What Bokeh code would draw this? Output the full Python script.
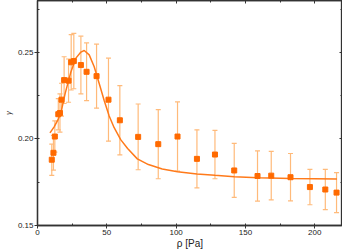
from bokeh.plotting import figure
from bokeh.models import (ColumnDataSource, Whisker, TeeHead, LinearAxis, Range1d,
                          SingleIntervalTicker, PrintfTickFormatter)
from bokeh.embed import file_html
from bokeh.resources import INLINE

# measured data (pressure in Pa, gamma)
p_pa = [10.3, 11.5, 12.5, 15.0, 16.2, 17.3, 19.2, 22.4, 24.3, 26.2, 31.3, 35.4,
        42.6, 51.2, 59.4, 72.6, 87.1, 101.0, 115.0, 128.0, 141.9, 158.7, 168.6,
        182.5, 196.5, 207.6, 215.7]
gamma = [0.188, 0.192, 0.2014, 0.2143, 0.2150, 0.2227, 0.2340, 0.2337, 0.2443,
         0.2450, 0.2427, 0.2388, 0.2363, 0.2227, 0.2108, 0.2012, 0.1970, 0.2014,
         0.1885, 0.1910, 0.1818, 0.1786, 0.1788, 0.1779, 0.1722, 0.1708, 0.1690]
gamma_err = [0.009, 0.010, 0.009, 0.009, 0.011, 0.0095, 0.0135, 0.0125, 0.016,
             0.016, 0.0167, 0.0167, 0.0185, 0.024, 0.020, 0.019, 0.020, 0.020,
             0.0168, 0.014, 0.0156, 0.0145, 0.014, 0.0137, 0.0102, 0.0116, 0.0116]

# fitted curve
fit_p = [9, 12, 15, 17, 20, 24, 27.7, 31.3, 33.7, 37.3, 40.9, 44.5, 48.1, 51.7,
         55.3, 60, 65, 72, 80, 90, 101, 115, 128, 142, 159, 183, 216]
fit_gamma = [0.2035, 0.207, 0.2115, 0.2155, 0.2265, 0.2385, 0.2467, 0.2502,
             0.2511, 0.2486, 0.2417, 0.2320, 0.2222, 0.2133, 0.2065, 0.1996,
             0.1945, 0.1885, 0.1852, 0.1826, 0.1810, 0.1798, 0.1790, 0.1782,
             0.1776, 0.1771, 0.1769]

x_range = (0, 220)
y_range = (0.15, 0.28)

upper = [g + e for g, e in zip(gamma, gamma_err)]
lower = [g - e for g, e in zip(gamma, gamma_err)]
src = ColumnDataSource(dict(x=p_pa, y=gamma, upper=upper, lower=lower))

AX = "#333333"
FONT = "Liberation Sans"

p = figure(width=342, height=251, output_backend="svg", toolbar_location=None,
           x_range=Range1d(*x_range), y_range=Range1d(*y_range),
           min_border_left=0, min_border_right=0, min_border_top=0,
           min_border_bottom=0, x_axis_label="ρ [Pa]", y_axis_label="γ")
p.grid.visible = False
p.outline_line_color = AX
p.outline_line_width = 1.3
p.background_fill_color = "white"
p.border_fill_color = "white"

for ax in p.xaxis:
    ax.ticker = SingleIntervalTicker(interval=50, num_minor_ticks=2)
for ax in p.yaxis:
    ax.ticker = SingleIntervalTicker(interval=0.05, num_minor_ticks=2)
    ax.formatter = PrintfTickFormatter(format="%.2f")

for ax in list(p.xaxis) + list(p.yaxis):
    ax.axis_line_color = AX
    ax.axis_line_width = 1.3
    ax.major_tick_line_color = AX
    ax.minor_tick_line_color = AX
    ax.major_tick_out = 3
    ax.major_tick_in = 0
    ax.minor_tick_out = 0
    ax.minor_tick_in = 2
    ax.major_label_text_font = FONT
    ax.major_label_text_font_size = "8px"
    ax.major_label_text_color = "#222222"
    ax.major_label_standoff = 1
    ax.axis_label_text_font = FONT
    ax.axis_label_text_color = "#222222"
    ax.axis_label_standoff = 0

p.xaxis.axis_label_text_font_size = "10px"
p.xaxis.axis_label_text_font_style = "normal"
p.yaxis.axis_label_text_font_size = "8px"
p.yaxis.axis_label_text_font_style = "italic"
p.yaxis.axis_label_standoff = 2

# mirror axes (ticks inside, no labels)
top = LinearAxis(ticker=SingleIntervalTicker(interval=50, num_minor_ticks=2))
right = LinearAxis(ticker=SingleIntervalTicker(interval=0.05, num_minor_ticks=2))
for ax in (top, right):
    ax.axis_line_color = AX
    ax.axis_line_width = 1.3
    ax.major_tick_line_color = AX
    ax.minor_tick_line_color = AX
    ax.major_tick_in = 3
    ax.major_tick_out = 0
    ax.minor_tick_in = 2
    ax.minor_tick_out = 0
    ax.major_label_text_font_size = "1px"
    ax.major_label_text_color = None
    ax.major_label_standoff = 0
p.add_layout(top, "above")
p.add_layout(right, "right")

# error bars
wh = Whisker(source=src, base="x", upper="upper", lower="lower",
             line_color="#FFBA7A", line_width=1.2,
             upper_head=TeeHead(size=5, line_color="#FFBA7A", line_width=1.2),
             lower_head=TeeHead(size=5, line_color="#FFBA7A", line_width=1.2))
p.add_layout(wh)

# fitted curve
p.line(fit_p, fit_gamma, line_color="#FF7A1A", line_width=1.5)

# data points
p.scatter("x", "y", source=src, marker="square", size=5,
          fill_color="#FF6A00", line_color="#FF6A00")

open("out.html", "w").write(file_html(p, INLINE))
